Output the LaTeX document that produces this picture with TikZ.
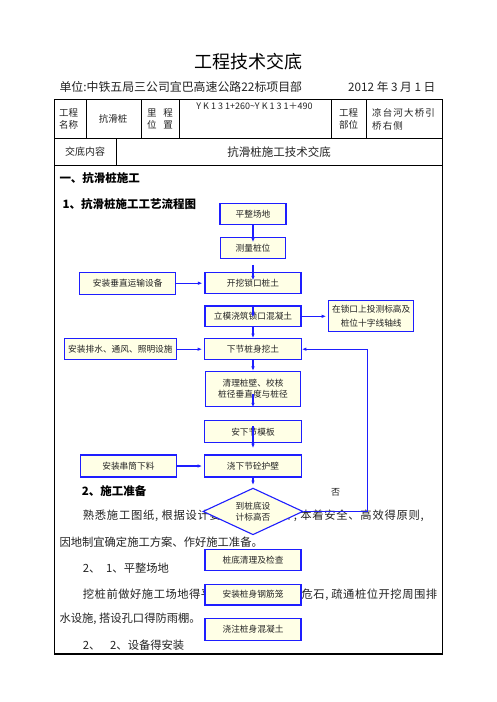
\documentclass[tikz,border=0pt]{standalone}
\usepackage{fontspec}
\setmainfont{Noto Sans CJK SC}
\newfontfamily\spreadA[LetterSpace=6.5]{Noto Sans CJK SC}
\newfontfamily\spreadB[LetterSpace=4.5]{Noto Sans CJK SC}
\newfontfamily\spreadC[LetterSpace=12]{Noto Sans CJK SC}
\usetikzlibrary{positioning,arrows.meta,shapes.geometric}
\definecolor{flowblue}{RGB}{30,30,255}
\definecolor{flowfill}{RGB}{255,255,230}
\definecolor{inkgray}{RGB}{35,35,35}

\begin{document}
\begin{tikzpicture}[
  x=1pt, y=-1pt,
  node distance=12pt,
  box/.style={draw=flowblue, fill=flowfill, line width=1.1pt, align=center, inner sep=0pt, text=inkgray, font=\fontsize{8.7}{11}\selectfont},
  cond/.style={box, diamond, shape aspect=2.2},
  txt/.style={inner sep=0pt, anchor=west, text=inkgray, font=\fontsize{11.3}{13}\selectfont},
  head/.style={txt, text=black, font=\fontsize{11.5}{13}\selectfont\bfseries},
  cell/.style={inner sep=0pt, align=center, text=inkgray, font=\fontsize{9.5}{12}\selectfont},
  grid/.style={line width=0.8pt},
  arr/.style={->, draw=flowblue, line width=1.1pt},
  >={Latex[length=4.5pt,width=3.5pt]}
]
\useasboundingbox[fill=white] (0,0) rectangle (496,702);

% heading of the sheet
\node[inner sep=0pt, font=\fontsize{18}{20}\selectfont] (title) at (248,62) {工程技术交底};
\node[txt, font=\fontsize{11.9}{13}\selectfont] (unit) at (59.3,87) {单位:中铁五局三公司宜巴高速公路22标项目部};
\node[txt, font=\fontsize{11.7}{13}\selectfont] (date) at (348,87) {2012 年 3 月 1 日};

% table
\draw[line width=1.1pt] (54.3,99.3) rectangle (442.3,654);
\draw[grid] (54.3,138.3) -- (442.3,138.3);
\draw[grid] (54.3,165) -- (442.3,165);
\foreach \cx in {86.7,141.7,179,331.7,366.7}
  \draw[grid] (\cx,99.3) -- (\cx,138.3);
\draw[grid] (116.3,138.3) -- (116.3,165);

\node[cell] (tname) at (68.5,119) {工程\\名称};
\node[cell] (tpile) at (113,119) {抗滑桩};
\node[cell] (tmile) at (160,119) {里\hspace{7pt}程\\位\hspace{7pt}置};
\node[cell, font=\fontsize{9}{11}\selectfont] (tchain) at (254.5,106) {Y K 1 3 1+260\textasciitilde Y K 1 3 1＋490};
\node[cell] (tpart) at (348.5,119) {工程\\部位};
\node[cell, anchor=west, align=left, font=\fontsize{9.5}{13}\spreadC] (tsite) at (372,119.5) {凉台河大桥引\\桥右侧};
\node[cell, font=\fontsize{10}{12}\selectfont] (tcont) at (85,152) {交底内容};
\node[cell, font=\fontsize{11.5}{13}\selectfont] (tsubj) at (279,152) {抗滑桩施工技术交底};

% text of the sheet
\node[head] (h1) at (59.3,178) {一、抗滑桩施工};
\node[head] (h2) at (62.3,204) {1、抗滑桩施工工艺流程图};
\node[head] (h3) at (81.7,491) {2、施工准备};
\node[txt] (p1) at (82.7,516) {\spreadA 熟悉施工图纸, 根据设计要求与现场条件, 本着安全、高效得原则,};
\node[txt] (p2) at (59.3,541.7) {因地制宜确定施工方案、作好施工准备。};
\node[txt] (p3a) at (82.7,568.3) {2、};
\node[txt] (p3b) at (106,568.3) {1、平整场地};
\node[txt] (p4) at (82.7,594.3) {\spreadB 挖桩前做好施工场地得平整夯实, 清除坡面危石, 疏通桩位开挖周围排};
\node[txt] (p5) at (59.3,619) {水设施, 搭设孔口得防雨棚。};
\node[txt] (p6a) at (82.7,645.7) {2、};
\node[txt] (p6b) at (110,645.7) {2、设备得安装};

% flow chart
\node[box, minimum width=66pt, minimum height=21pt] (pz) at (253,213.8) {平整场地};
\node[box, minimum width=65.6pt, minimum height=20.6pt, below=12.4pt of pz] (cl) {测量桩位};
\node[box, minimum width=96pt, minimum height=20.6pt, below=13.4pt of cl] (kw) {开挖锁口桩土};
\node[box, minimum width=96pt, minimum height=20.6pt, below=11.4pt of kw] (lm) {立模浇筑锁口混凝土};
\node[box, minimum width=96.6pt, minimum height=21pt, below=11pt of lm] (xj) {下节桩身挖土};
\node[box, minimum width=95.6pt, minimum height=35.3pt, below=10.7pt of xj] (ql) {清理桩壁、校核\\桩径垂直度与桩径};
\node[box, minimum width=96.6pt, minimum height=21.7pt, below=13pt of ql] (am) {安下节模板};
\node[box, minimum width=96.6pt, minimum height=22pt, below=11.3pt of am] (jx) {浇下节砼护壁};
\node[cond, minimum width=100pt, minimum height=46.7pt, below=10pt of jx] (dm) {到桩底设\\计标高否};
\node[box, minimum width=96pt, minimum height=21pt, below=13.3pt of dm] (qc) {桩底清理及检查};
\node[box, minimum width=96pt, minimum height=20.7pt, below=13pt of qc] (gj) {安装桩身钢筋笼};
\node[box, minimum width=96pt, minimum height=22pt, below=12.3pt of gj] (jz) {浇注桩身混凝土};

\node[box, minimum width=95.6pt, minimum height=21.7pt, left=28.4pt of kw] (cz) {安装垂直运输设备};
\node[box, minimum width=85pt, minimum height=31pt, right=26.6pt of lm, font=\fontsize{8.7}{13.7}\selectfont] (zk) {在锁口上投测标高及\\桩位十字线轴线};
\node[box, minimum width=111.6pt, minimum height=21pt, left=27.4pt of xj] (ps) {安装排水、通风、照明设施};
\node[box, minimum width=95.6pt, minimum height=22pt, left=27.4pt of jx] (ct) {安装串筒下料};

\draw[arr] (pz.south) -- ([yshift=-5pt]cl.north);
\draw[arr] ([yshift=-6pt]cl.south) -- ([yshift=-8pt]kw.north);
\draw[arr] (lm.north) -- ([yshift=-12pt]lm.north);
\draw[arr] (lm) -- (xj);
\draw[arr] (xj) -- (ql);
\draw[arr] ([yshift=13pt]ql.south) -- (ql.south);
\draw[arr] ([yshift=-6pt]am.north) -- ([yshift=-5pt]am.south);
\draw[arr, shorten >=2.5pt] (jx) -- (dm);
\draw[arr, shorten >=2pt] (cz) -- (kw);
\draw[arr, shorten >=2pt] (lm) -- (zk);
\draw[arr, shorten >=2pt] (ps) -- (xj);
\draw[arr, shorten >=2pt] (ct) -- (jx);

\coordinate (back) at ([xshift=64pt]dm.east);
\draw[arr] (dm.east) -- (back) |- (xj.east);
\node[inner sep=0pt, text=inkgray, font=\fontsize{9}{11}\selectfont] (no) at (335.7,492.7) {否};
\end{tikzpicture}
\end{document}
